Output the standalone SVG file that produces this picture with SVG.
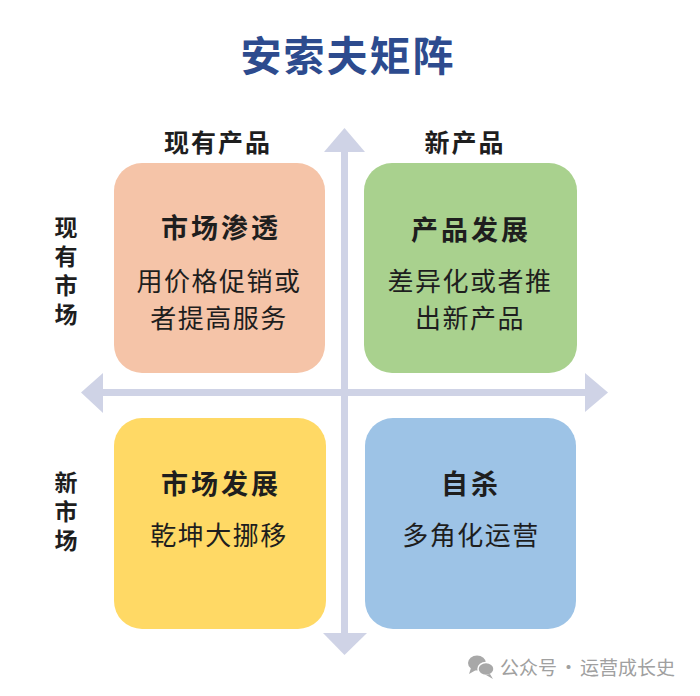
<svg xmlns="http://www.w3.org/2000/svg" width="700" height="696" viewBox="0 0 700 696">
<style>
text{font-family:"Noto Sans CJK SC","Noto Sans",sans-serif;fill:#1e1e1e;text-anchor:middle}
.title{font-size:41px;font-weight:700;fill:#2d4b8e;letter-spacing:2px}
.axis{font-size:25px;font-weight:700;letter-spacing:2px}
.side{font-size:23px;font-weight:700;writing-mode:vertical-rl;letter-spacing:6px}
.head{font-size:27px;font-weight:700;letter-spacing:3px}
.body{font-size:26px;font-weight:400;letter-spacing:1.5px}
.wm{font-size:19px;fill:#a0a0a0;text-anchor:start}
.ax{fill:#cfd3e6}
</style>
<rect width="700" height="696" fill="#ffffff"/>
<text class="title" x="348" y="71">安索夫矩阵</text>

<g id="connectors">
<rect class="ax" x="341" y="150" width="7" height="486"/>
<polygon class="ax" points="344.5,128 324,152 365,152"/>
<polygon class="ax" points="344.5,655 323,633 367,633"/>
<rect class="ax" x="100" y="389" width="488" height="7"/>
<polygon class="ax" points="81,392.5 103,373 103,413"/>
<polygon class="ax" points="608,392.5 585,373 585,412"/>
</g>

<text class="axis" x="218" y="152">现有产品</text>
<text class="axis" x="465" y="152">新产品</text>

<g id="side-labels">
<text class="side" x="66" y="274">现有市场</text>
<text class="side" x="66" y="514">新市场</text>
</g>

<g id="q1">
<rect x="114" y="163" width="211" height="210" rx="28" fill="#f5c4a8"/>
<text class="head" x="221" y="238">市场渗透</text>
<text class="body" x="219" y="291">用价格促销或</text>
<text class="body" x="219" y="328">者提高服务</text>
</g>
<g id="q2">
<rect x="364" y="163" width="213" height="210" rx="28" fill="#a9d18e"/>
<text class="head" x="471" y="240">产品发展</text>
<text class="body" x="470" y="291">差异化或者推</text>
<text class="body" x="470" y="328">出新产品</text>
</g>
<g id="q3">
<rect x="114" y="418" width="212" height="211" rx="28" fill="#ffd965"/>
<text class="head" x="221" y="494">市场发展</text>
<text class="body" x="219" y="545">乾坤大挪移</text>
</g>
<g id="q4">
<rect x="365" y="418" width="211" height="211" rx="28" fill="#9dc3e6"/>
<text class="head" x="471" y="494">自杀</text>
<text class="body" x="471" y="545">多角化运营</text>
</g>

<g id="watermark">
<ellipse cx="477" cy="663" rx="9" ry="7.5" fill="#a8a8a8"/>
<polygon points="471,668 469,674 476,670" fill="#a8a8a8"/>
<ellipse cx="486" cy="669" rx="8" ry="6.5" fill="#a8a8a8" stroke="#ffffff" stroke-width="1.5"/>
<polygon points="490,674 493,679 486,675" fill="#a8a8a8"/>
<text class="wm" x="500" y="675">公众号<tspan dx="2">·</tspan><tspan dx="2">运营成长史</tspan></text>
</g>
</svg>
